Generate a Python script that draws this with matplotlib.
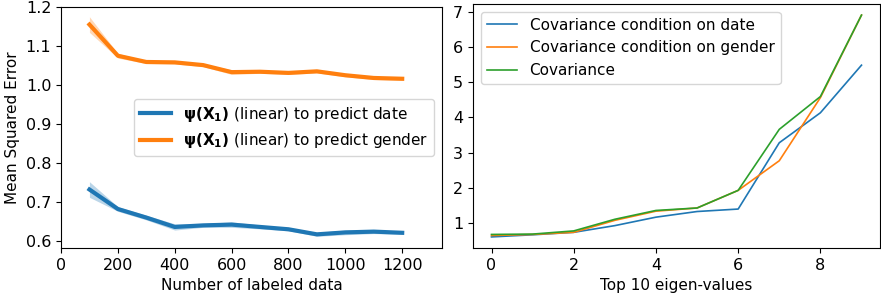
import matplotlib
matplotlib.use('Agg')
import matplotlib.pyplot as plt
import numpy as np

# left panel: MSE vs number of labeled data
n_labeled = [100, 200, 300, 400, 500, 600, 700, 800, 900, 1000, 1100, 1200]
mse_date = [0.732, 0.682, 0.660, 0.636, 0.640, 0.642, 0.636, 0.630, 0.617, 0.622, 0.624, 0.621]
std_date = [0.020, 0.006, 0.006, 0.008, 0.005, 0.007, 0.005, 0.004, 0.005, 0.006, 0.005, 0.004]
mse_gender = [1.155, 1.075, 1.059, 1.058, 1.051, 1.033, 1.034, 1.031, 1.035, 1.025, 1.018, 1.016]
std_gender = [0.020, 0.006, 0.004, 0.004, 0.004, 0.006, 0.004, 0.004, 0.004, 0.004, 0.004, 0.004]

# right panel: top 10 eigen-values
eig_idx = list(range(10))
cov_date = [0.61, 0.67, 0.74, 0.93, 1.17, 1.33, 1.40, 3.28, 4.13, 5.48]
cov_gender = [0.65, 0.68, 0.74, 1.08, 1.34, 1.43, 1.93, 2.77, 4.56, 6.90]
cov_all = [0.68, 0.69, 0.78, 1.11, 1.36, 1.43, 1.93, 3.66, 4.59, 6.90]

plt.rcParams['font.size'] = 11
plt.rcParams['xtick.labelsize'] = 11.5
plt.rcParams['ytick.labelsize'] = 11.5
W, H = 881, 294
fig = plt.figure(figsize=(W / 100, H / 100), dpi=100)
ax1 = fig.add_axes([61 / W, 46 / H, 381 / W, 241 / H])
ax2 = fig.add_axes([473 / W, 46 / H, 407 / W, 244 / H])

x = np.array(n_labeled)
for m, s, c, lab in [(mse_date, std_date, 'tab:blue', 'date'),
                     (mse_gender, std_gender, 'tab:orange', 'gender')]:
    m, s = np.array(m), np.array(s)
    ax1.plot(x, m, color=c, lw=3,
             label=r'$\mathbf{\psi(X_1)}$ (linear) to predict ' + lab)
    ax1.fill_between(x, m - s, m + s, color=c, alpha=0.3, lw=0)
ax1.set_xlim(0, 1340)
ax1.set_ylim(0.582, 1.2)
ax1.set_xticks([0, 200, 400, 600, 800, 1000, 1200])
ax1.set_xlabel('Number of labeled data')
ax1.set_ylabel('Mean Squared Error')
ax1.legend(loc='center right')

ax2.plot(eig_idx, cov_date, lw=1.2, label='Covariance condition on date')
ax2.plot(eig_idx, cov_gender, lw=1.2, label='Covariance condition on gender')
ax2.plot(eig_idx, cov_all, lw=1.2, label='Covariance')
ax2.set_xlabel('Top 10 eigen-values')
ax2.legend(loc='upper left')

fig.savefig('out.png', dpi=100)
